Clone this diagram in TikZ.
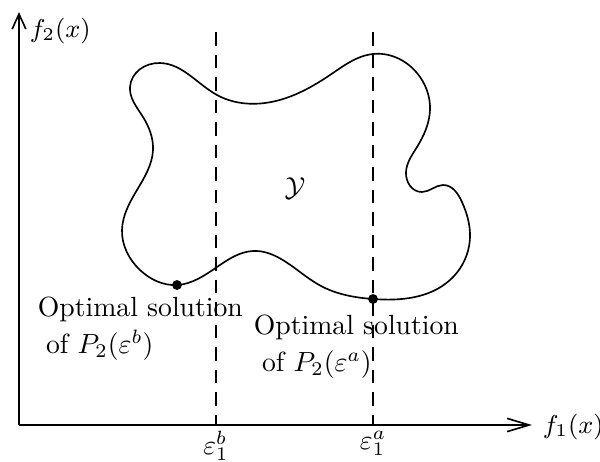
\documentclass[tikz,border=0pt]{standalone}
\usepackage{fix-cm}
\usepackage{amsmath,amssymb}
\usepackage{tikz}
\usetikzlibrary{arrows.meta,positioning,hobby}

\begin{document}
\begin{tikzpicture}[x=0.0128cm, y=-0.0128cm, line width=0.6pt,
      axis/.style={line width=0.6pt},
      bound/.style={dash pattern=on 5pt off 3.2pt, line width=0.6pt},
      sol/.style={circle, fill, inner sep=0pt, minimum size=3.6pt},
      axlab/.style={inner sep=0pt, font=\fontsize{9.4}{11}\selectfont},
      txt/.style={align=left, inner sep=0pt, anchor=north west,
                  font=\fontsize{10.1}{13.5}\selectfont}]
    \useasboundingbox (0,0) rectangle (600,461);
    % axes
    \coordinate (O) at (19,425);
    \coordinate (Ytip) at (19,12);
    \coordinate (Xtip) at (532,425);
    \draw[axis, -{Straight Barb[length=5.5pt, width=5pt]}] (O) -- (Ytip);
    \draw[axis, -{Straight Barb[length=8pt, width=4.8pt]}] (O) -- (Xtip);
    \node[axlab, anchor=west] (f2) at (29,31) {$f_2(x)$};
    \node[axlab, anchor=west] (f1) at (542,427) {$f_1(x)$};
    % epsilon bounds
    \foreach \cx/\lett/\nm in {216/b/epsb, 373/a/epsa} {
      \coordinate (\nm-top) at (\cx,32);
      \coordinate (\nm-bot) at (\cx,425);
      \draw[bound] (\nm-top) -- (\nm-bot);
      \node[anchor=north, inner sep=0pt] (\nm) at (\cx,430) {$\varepsilon_1^{\lett}$};
    }
    % objective space
    \draw[use Hobby shortcut, closed=true]
      (160,63) .. (217,95) .. (265,103) .. (330,75) .. (373,54) .. (417,73)
      .. (430,110) .. (417,147) .. (406,172) .. (422,192) .. (443,185)
      .. (462,202) .. (470,237) .. (450,280) .. (373,299) .. (323,287)
      .. (300,272) .. (253,251) .. (217,267) .. (177,285) .. (140,270)
      .. (122,230) .. (137,190) .. (153,150) .. (143,117) .. (130,87);
    \node (Y) at (295,188) {$\mathcal{Y}$};
    % optimal solutions
    \node[sol] (solb) at (177,285) {};
    \node[sol] (sola) at (373,299) {};
    \node[txt] (lab-b) at (37,296) {Optimal solution\\\hspace*{3pt}of $P_2(\varepsilon^b)$};
    \node[txt] (lab-a) at (253,314) {Optimal solution\\\hspace*{3pt}of $P_2(\varepsilon^a)$};
  \end{tikzpicture}
\end{document}
